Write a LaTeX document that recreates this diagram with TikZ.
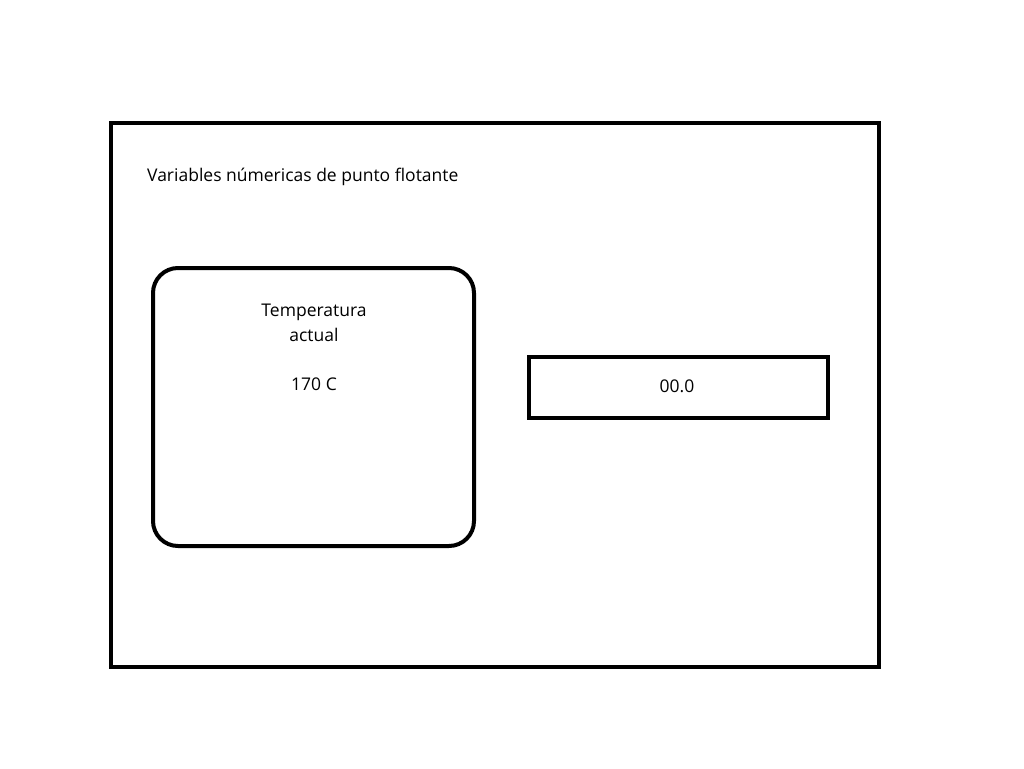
\documentclass[tikz,border=0pt]{standalone}
\usepackage{fontspec}
\setmainfont{Open Sans}
\begin{document}
\begin{tikzpicture}[x=1pt,y=-1pt,
  frame/.style={draw=black,line width=4pt},
  lbl/.style={font=\fontsize{17.5}{25}\selectfont,inner sep=0pt,align=center}]
\useasboundingbox[fill=white] (0,0) rectangle (1024,768);
\node[frame,minimum width=768pt,minimum height=544pt,inner sep=0pt] (outer) at (495,395) {};
\node[lbl,anchor=west] (title) at (147,177) {Variables númericas de punto flotante};
\node[frame,rounded corners=25pt,minimum width=321pt,minimum height=278pt,inner sep=0pt] (temp) at (313.5,407) {};
\node[lbl] (tlabel) at (314,323) {Temperatura\\actual};
\node[lbl] (tval) at (314,384) {170 C};
\node[frame,minimum width=299pt,minimum height=61pt,inner sep=0pt] (disp) at (678.5,387.5) {};
\node[lbl] (dval) at (677,386) {00.0};
\end{tikzpicture}
\end{document}
